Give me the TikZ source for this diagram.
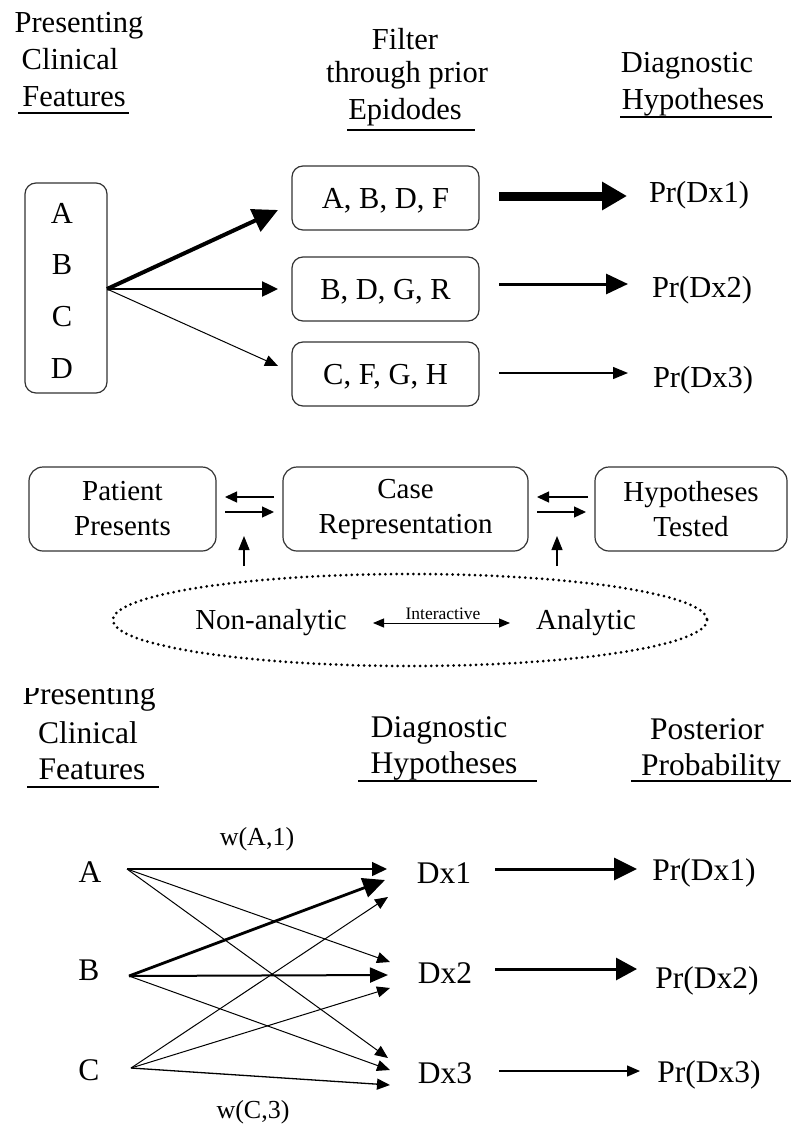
\documentclass[tikz,border=0pt]{standalone}
\usepackage{fontspec}
\setmainfont{Liberation Serif}
\usetikzlibrary{arrows.meta}
\newcommand\fTop{\fontsize{30.5pt}{37pt}\selectfont}
\newcommand\fMid{\fontsize{29pt}{35pt}\selectfont}
\newcommand\fBot{\fontsize{31.5pt}{37pt}\selectfont}
\newcommand\fLab{\fontsize{26pt}{30pt}\selectfont}
\newcommand\fTiny{\fontsize{17.5pt}{20pt}\selectfont}
\begin{document}
\begin{tikzpicture}[x=1pt,y=-1pt,
  ttop/.style={inner sep=0pt,anchor=base,font=\fTop},
  tbot/.style={inner sep=0pt,anchor=base,font=\fBot},
  uline/.style={line width=1.3pt},
  rbox/.style={draw=black!80,line width=1.2pt,rounded corners=11pt,inner sep=0pt},
  fbox/.style={rbox,minimum width=187pt,minimum height=64pt,font=\fTop,text height=20pt,text depth=0pt},
  mbox/.style={rbox,rounded corners=14pt,minimum height=84pt,font=\fMid,align=center},
]
\useasboundingbox (0,0) rectangle (791,1126);

% ---------------- top section ----------------
\node[ttop] (h1a) at (79,33) {Presenting};
\node[ttop] (h1b) at (70,70) {Clinical};
\node[ttop] (h1c) at (74,107) {Features};
\draw[uline] (18,113) -- (129,113);
\node[ttop] (h2a) at (405,50) {Filter};
\node[ttop] (h2b) at (407,83) {through prior};
\node[ttop] (h2c) at (405,120) {Epidodes};
\draw[uline] (347,130) -- (475,130);
\node[ttop] (h3a) at (687,73) {Diagnostic};
\node[ttop] (h3b) at (693,110) {Hypotheses};
\draw[uline] (620,117) -- (772,117);

\node[rbox,minimum width=82pt,minimum height=210pt] (abcd) at (66,288) {};
\node[inner sep=0pt,font=\fTop] (la) at (62,213) {A};
\node[inner sep=0pt,font=\fTop] (lb) at (62,265) {B};
\node[inner sep=0pt,font=\fTop] (lc) at (62,317) {C};
\node[inner sep=0pt,font=\fTop] (ld) at (62,369) {D};

\node[fbox] (f1) at (385.5,198) {A, B, D, F};
\node[fbox] (f2) at (385.5,289) {B, D, G, R};
\node[fbox] (f3) at (385.5,374) {C, F, G, H};

\coordinate (src) at (107,289);
\coordinate (t1) at (278,210);
\coordinate (t2) at (278,289);
\coordinate (t3) at (278,366);
\draw[line width=4pt,-{Triangle[length=25pt,width=24pt]}] (src) -- (t1);
\draw[line width=2.5pt,-{Triangle[length=16pt,width=15pt]}] (src) -- (t2);
\draw[line width=1pt,-{Triangle[length=13pt,width=11pt]}] (src) -- (t3);

\node[ttop] (p1) at (699,203) {Pr(Dx1)};
\node[ttop] (p2) at (702,297) {Pr(Dx2)};
\node[ttop] (p3) at (703,387) {Pr(Dx3)};
\coordinate (r1s) at (499,196); \coordinate (r1e) at (627,196);
\coordinate (r2s) at (499,284); \coordinate (r2e) at (628,284);
\coordinate (r3s) at (499,373); \coordinate (r3e) at (628,373);
\draw[line width=9pt,-{Triangle[length=25pt,width=27pt]}] (r1s) -- (r1e);
\draw[line width=3pt,-{Triangle[length=22pt,width=20pt]}] (r2s) -- (r2e);
\draw[line width=1.3pt,-{Triangle[length=15pt,width=12pt]}] (r3s) -- (r3e);

% ---------------- middle section ----------------
\node[mbox,minimum width=187pt] (pp) at (122.5,509) {Patient\\Presents};
\node[mbox,minimum width=245pt] (cr) at (405.5,509) {Case\\Representation};
\node[mbox,minimum width=192pt] (ht) at (691,509) {Hypotheses\\Tested};

\tikzset{small/.style={line width=1.3pt,-{Triangle[length=12pt,width=11pt]}}}
\coordinate (m1a) at (274,497); \coordinate (m1b) at (225,497);
\coordinate (m2a) at (225,512); \coordinate (m2b) at (274,512);
\coordinate (m3a) at (588,497); \coordinate (m3b) at (537,497);
\coordinate (m4a) at (537,512); \coordinate (m4b) at (586,512);
\draw[small] (m1a) -- (m1b);
\draw[small] (m2a) -- (m2b);
\draw[small] (m3a) -- (m3b);
\draw[small] (m4a) -- (m4b);
\coordinate (v1a) at (244,566); \coordinate (v1b) at (244,536);
\coordinate (v2a) at (557,566); \coordinate (v2b) at (557,536);
\draw[line width=1.2pt,-{Triangle[length=14pt,width=11pt]}] (v1a) -- (v1b);
\draw[line width=1.2pt,-{Triangle[length=14pt,width=11pt]}] (v2a) -- (v2b);

\draw[line width=3pt,dash pattern=on 0pt off 5.6pt,line cap=round] (410,620) ellipse [x radius=297, y radius=46];
\node[inner sep=0pt,anchor=base,font=\fMid] (na) at (271,629) {Non-analytic};
\node[inner sep=0pt,anchor=base,font=\fMid] (an) at (586,629) {Analytic};
\coordinate (ia) at (373,623); \coordinate (ib) at (510,623);
\draw[line width=1pt,{Triangle[length=11pt,width=9pt]}-{Triangle[length=11pt,width=9pt]}] (ia) -- (ib);
\node[inner sep=0pt,anchor=base,font=\fTiny] (int) at (443,619) {Interactive};

% ---------------- bottom section ----------------
\begin{scope}
\clip (0,688) rectangle (300,720);
\node[tbot] (h4a) at (89,704) {Presenting};
\end{scope}
\node[tbot] (h4b) at (88,743) {Clinical};
\node[tbot] (h4c) at (92,779) {Features};
\draw[uline] (27,787) -- (159,787);
\node[tbot] (h5a) at (439,737) {Diagnostic};
\node[tbot] (h5b) at (444,773) {Hypotheses};
\draw[uline] (358,781) -- (537,781);
\node[tbot] (h6a) at (707,739) {Posterior};
\node[tbot] (h6b) at (711,775) {Probability};
\draw[uline] (631,781) -- (791,781);

\node[tbot] (na2) at (90,882) {A};
\node[tbot] (nb2) at (89,980) {B};
\node[tbot] (nc2) at (89,1080) {C};
\node[tbot] (dx1) at (444,883) {Dx1};
\node[tbot] (dx2) at (445,983) {Dx2};
\node[tbot] (dx3) at (445,1083) {Dx3};
\node[tbot] (q1) at (704,880) {Pr(Dx1)};
\node[tbot] (q2) at (707,988) {Pr(Dx2)};
\node[tbot] (q3) at (709,1082) {Pr(Dx3)};
\node[inner sep=0pt,anchor=base,font=\fLab] (wa) at (257,845) {w(A,1)};
\node[inner sep=0pt,anchor=base,font=\fLab] (wc) at (253,1118) {w(C,3)};

\coordinate (a0) at (127,869);
\coordinate (b0) at (129,976);
\coordinate (c0) at (131,1068);
\coordinate (e11) at (387,869);
\coordinate (e21) at (385,880);
\coordinate (e31) at (388,897);
\coordinate (e12) at (390,962);
\coordinate (e22) at (388,975);
\coordinate (e32) at (390,988);
\coordinate (e13) at (388,1058);
\coordinate (e23) at (390,1070);
\coordinate (e33) at (390,1085);
\tikzset{thinA/.style={line width=1pt,-{Triangle[length=13pt,width=11pt]}}}
\draw[line width=1.5pt,-{Triangle[length=15pt,width=14pt]}] (a0) -- (e11);
\draw[thinA] (a0) -- (e12);
\draw[thinA] (a0) -- (e13);
\draw[line width=2.8pt,-{Triangle[length=22pt,width=20pt]}] (b0) -- (e21);
\draw[line width=2pt,-{Triangle[length=18pt,width=15pt]}] (b0) -- (e22);
\draw[thinA] (b0) -- (e23);
\draw[thinA] (c0) -- (e31);
\draw[thinA] (c0) -- (e32);
\draw[line width=1.3pt,-{Triangle[length=13pt,width=11pt]}] (c0) -- (e33);

\coordinate (s1a) at (495,869); \coordinate (s1b) at (637,869);
\coordinate (s2a) at (495,969); \coordinate (s2b) at (637,969);
\coordinate (s3a) at (499,1071); \coordinate (s3b) at (640,1071);
\draw[line width=3pt,-{Triangle[length=23pt,width=22pt]}] (s1a) -- (s1b);
\draw[line width=3pt,-{Triangle[length=21pt,width=22pt]}] (s2a) -- (s2b);
\draw[line width=1.3pt,-{Triangle[length=13pt,width=11pt]}] (s3a) -- (s3b);
\end{tikzpicture}
\end{document}
